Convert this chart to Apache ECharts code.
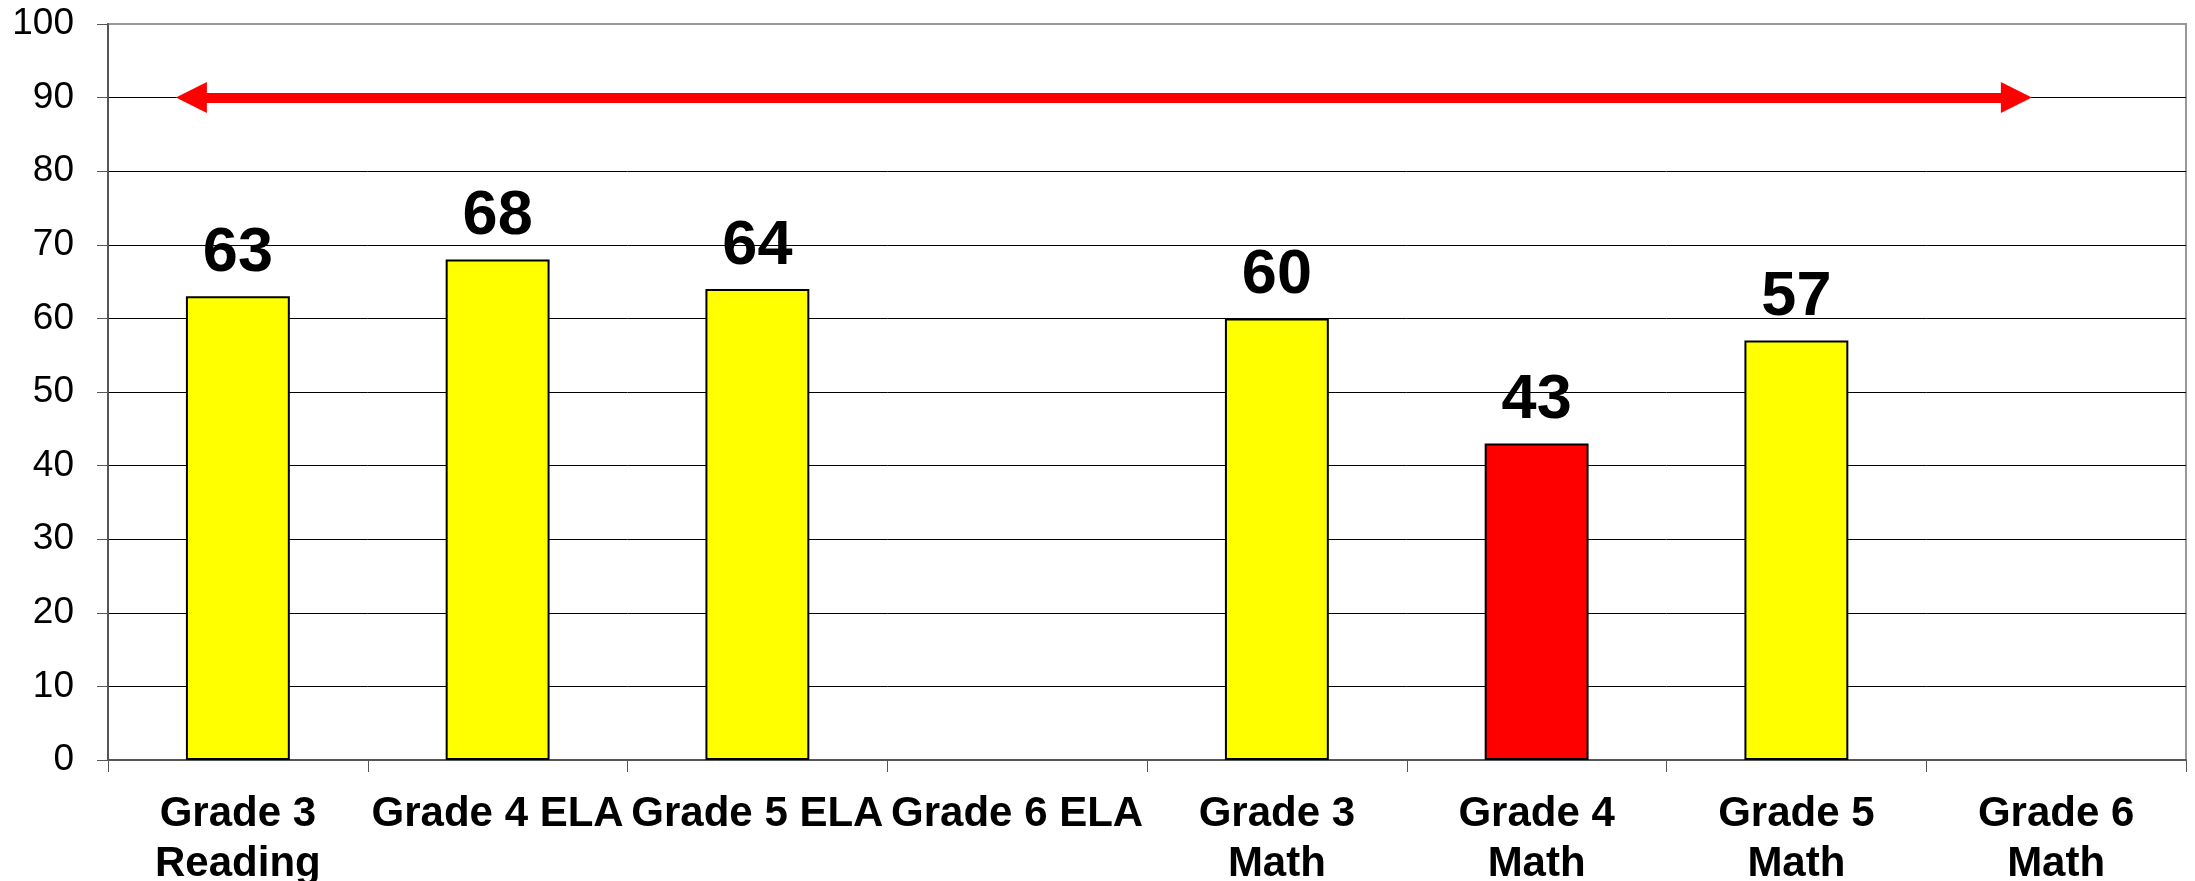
<!DOCTYPE html>
<html>
<head>
<meta charset="utf-8">
<script src="https://cdn.jsdelivr.net/npm/echarts@6/dist/echarts.min.js"></script>
<style>html,body{margin:0;padding:0;background:#fff;}#c{width:2195px;height:881px;}</style>
</head>
<body>
<div id="c"></div>
<script>
const categories = ['Grade 3\nReading', 'Grade 4 ELA', 'Grade 5 ELA', 'Grade 6 ELA', 'Grade 3\nMath', 'Grade 4\nMath', 'Grade 5\nMath', 'Grade 6\nMath'];
const scores = [63, 68, 64, null, 60, 43, 57, null];
const barColors = ['#FFFF00', '#FFFF00', '#FFFF00', '#FFFF00', '#FFFF00', '#FF0000', '#FFFF00', '#FFFF00'];
const yTicks = [0, 10, 20, 30, 40, 50, 60, 70, 80, 90, 100];
// arrow annotation, in category units (0..8) along the hidden value axis
const arrowStart = [0.321, 90];
const arrowEnd = [7.347, 90];

const chart = echarts.init(document.getElementById('c'));
const splitColors = yTicks.map((v, i) => i === yTicks.length - 1 ? '#999999' : '#000000');
chart.setOption({
  animation: false,
  grid: { left: 108, right: 9, top: 24, bottom: 121, containLabel: false, outerBoundsMode: 'none', show: true, borderColor: '#999999', borderWidth: 2, backgroundColor: 'transparent' },
  xAxis: [{
    type: 'category',
    data: categories,
    axisLine: { lineStyle: { color: '#555555', width: 2 } },
    axisTick: { show: true, length: 12, lineStyle: { color: '#555555', width: 1 } },
    axisLabel: { fontFamily: 'Liberation Sans, Arial', fontWeight: 'bold', fontSize: 42, color: '#000', lineHeight: 50, margin: 29, interval: 0 }
  }, {
    type: 'value', min: 0, max: 8, show: false
  }],
  yAxis: {
    type: 'value', min: 0, max: 100, interval: 10,
    axisLine: { show: true, lineStyle: { color: '#555555', width: 2 } },
    axisTick: { show: true, length: 11, lineStyle: { color: '#555555' } },
    axisLabel: { fontFamily: 'Liberation Sans, Arial', fontSize: 37, color: '#000', margin: 34 },
    splitLine: { show: true, lineStyle: { color: splitColors, width: 1 } }
  },
  series: [{
    type: 'bar',
    data: scores.map((v, i) => ({ value: v, itemStyle: { color: barColors[i] } })),
    barWidth: '40%',
    itemStyle: { borderColor: '#000', borderWidth: 2 },
    label: { show: true, position: 'top', distance: 11, fontFamily: 'Liberation Sans, Arial', fontWeight: 'bold', fontSize: 63, color: '#000' }
  }, {
    type: 'line',
    xAxisIndex: 1,
    data: [],
    markLine: {
      silent: true,
      symbol: ['triangle', 'triangle'],
      symbolSize: [31, 31],
      label: { show: false },
      lineStyle: { color: '#FF0000', width: 10, type: 'solid' },
      data: [[{ coord: arrowStart }, { coord: arrowEnd }]]
    }
  }]
});
</script>
</body>
</html>
